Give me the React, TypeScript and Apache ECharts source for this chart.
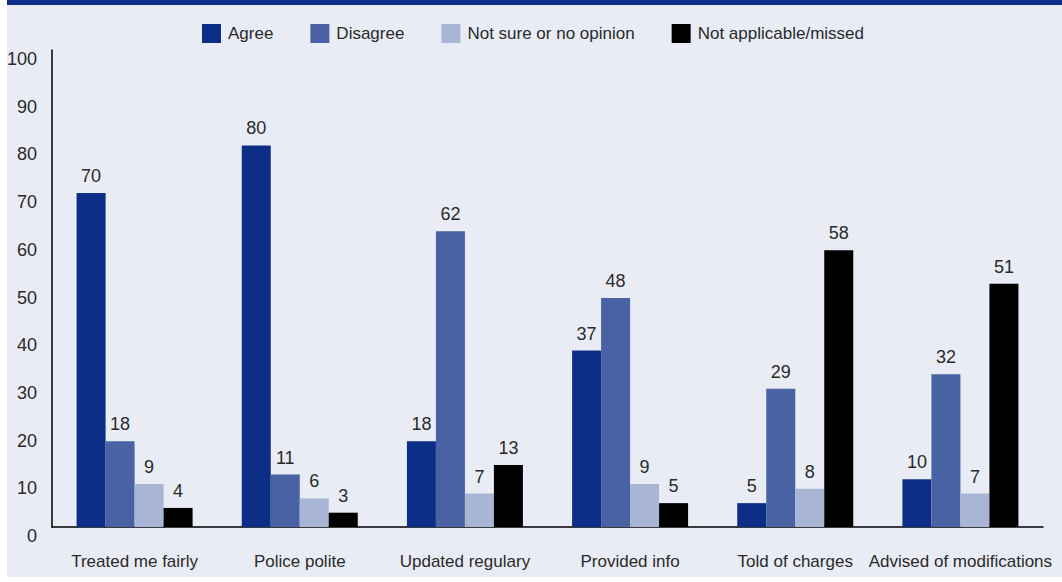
import React, { useEffect, useRef } from 'react';
import * as echarts from 'echarts';

const categories = [
  'Treated me fairly',
  'Police polite',
  'Updated regulary',
  'Provided info',
  'Told of charges',
  'Advised of modifications',
];
const seriesNames = ['Agree', 'Disagree', 'Not sure or no opinion', 'Not applicable/missed'];
const agree = [70, 80, 18, 37, 5, 10];
const disagree = [18, 11, 62, 48, 29, 32];
const notSure = [9, 6, 7, 9, 8, 7];
const notApplicable = [4, 3, 13, 5, 58, 51];
const seriesColors = ['#0c2e86', '#4862a3', '#a8b5d4', '#000000'];

const FONT = "'Liberation Sans Narrow', 'Arial Narrow', 'Liberation Sans', sans-serif";
const TEXT = '#2a2a2a';

export default function App() {
  const ref = useRef<HTMLDivElement>(null);

  useEffect(() => {
    if (!ref.current) return;
    const chart = echarts.init(ref.current, undefined, { renderer: 'svg' });
    const values = [agree, disagree, notSure, notApplicable];

    chart.setOption({
      animation: false,
      backgroundColor: '#ffffff',
      textStyle: { fontFamily: FONT },
      graphic: [
        { type: 'rect', silent: true, z: -10, shape: { x: 7, y: 0, width: 1055, height: 577 }, style: { fill: '#e9ecf4' } },
        { type: 'rect', silent: true, z: -9, shape: { x: 7, y: 0, width: 1055, height: 5 }, style: { fill: '#0c2e86' } },
      ],
      legend: {
        top: 19,
        left: 197,
        itemWidth: 19,
        itemHeight: 19,
        itemGap: 37,
        icon: 'rect',
        data: seriesNames,
        textStyle: { fontFamily: FONT, fontSize: 17, color: TEXT, padding: [0, 0, 0, 2] },
      },
      grid: { left: 52, right: 19, top: 50, bottom: 55, containLabel: false },
      xAxis: {
        type: 'category',
        data: categories,
        axisLine: { lineStyle: { color: '#000', width: 1.5 } },
        axisTick: { show: false },
        axisLabel: { fontFamily: FONT, fontSize: 17, color: TEXT, margin: 26, interval: 0 },
      },
      yAxis: {
        type: 'value',
        min: 0,
        max: 100,
        interval: 10,
        axisLine: { show: true, lineStyle: { color: '#000', width: 1.5 } },
        axisTick: { show: false },
        splitLine: { show: false },
        axisLabel: { fontFamily: FONT, fontSize: 18, color: TEXT, margin: 15, verticalAlign: 'top' },
      },
      series: seriesNames.map((name, i) => ({
        name,
        type: 'bar',
        data: values[i],
        barWidth: 29,
        barGap: '0%',
        itemStyle: { color: seriesColors[i] },
        label: {
          show: true,
          position: 'top',
          distance: 8,
          fontFamily: FONT,
          fontSize: 18,
          color: TEXT,
        },
      })),
    });

    return () => chart.dispose();
  }, []);

  return (
    <div
      ref={ref}
      style={{ position: 'absolute', left: 0, top: 0, width: 1062, height: 582 }}
    />
  );
}
